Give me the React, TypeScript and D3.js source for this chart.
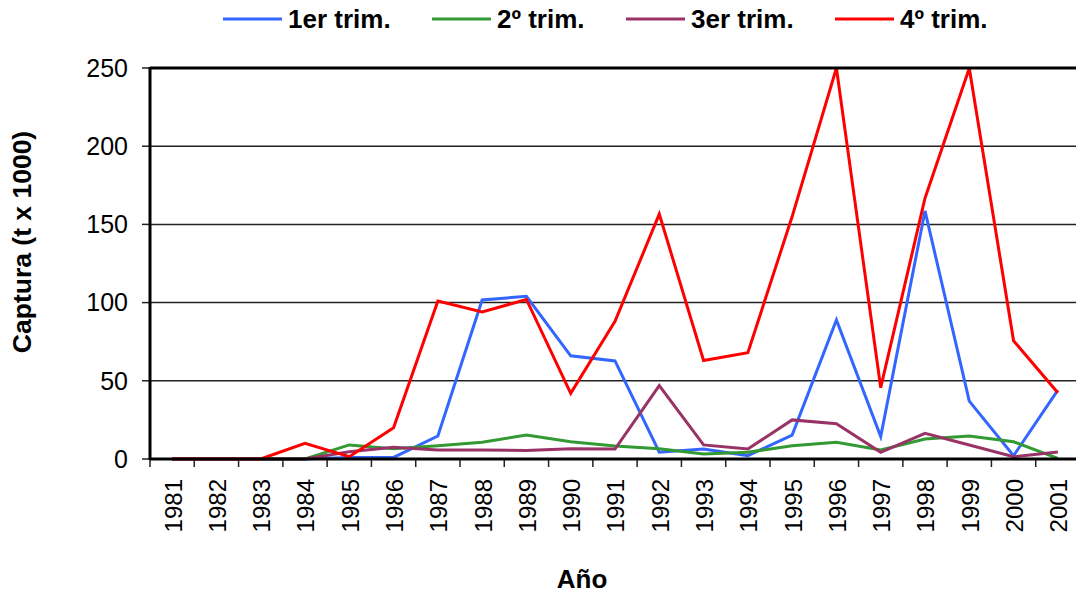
import React from "react";
import * as d3 from "d3";

const years = ["1981","1982","1983","1984","1985","1986","1987","1988","1989","1990","1991","1992","1993","1994","1995","1996","1997","1998","1999","2000","2001"];
const trim1 = [0,0,0,0,1,1,14.7,101.7,104,66,62.7,4.3,6.4,2.1,15.3,88.9,14.3,158.6,37,2.1,44];
const trim2 = [0,0,0,0,9,6.6,8.5,10.7,15.3,11,8.3,6.6,3.2,4.3,8.5,10.7,5.8,12.8,14.7,11,0.4];
const trim3 = [0,0,0,0,4.7,7.5,5.8,5.8,5.4,6.5,6.4,46.9,9,6.4,25,22.6,4.3,16.4,9,1.5,4.5];
const trim4 = [0,0,0,10,1.5,20,101,94,102,42,88,156.6,63,68,155,250,45.6,166.7,249.8,75.6,42.4];
const yTicks = [0,50,100,150,200,250];
const seriesNames = ["1er trim.","2º trim.","3er trim.","4º trim."];
const seriesColors = ["#3366FF","#339933","#993366","#FF0000"];

export default function App() {
  const W = 1076, H = 594;
  const left = 150, right = 1080, top = 68, bottom = 459;
  const x = d3.scaleBand<string>().domain(years).range([left, right]);
  const y = d3.scaleLinear().domain([0, 250]).range([bottom, top]);
  const series = [trim1, trim2, trim3, trim4];
  const line = d3.line<number>().x((_, i) => (x(years[i]) as number) + x.bandwidth() / 2).y(d => y(d));
  const legendX = [223, 432, 626, 835];
  const font = "Arial, 'Liberation Sans', sans-serif";
  const boundaries = d3.range(years.length + 1).map(i => left + i * x.step());
  return (
    <svg width={W} height={H} style={{ position: "absolute", left: 0, top: 0, background: "#fff" }} fontFamily={font}>
      {yTicks.filter(t => t > 0 && t < 250).map(t => (
        <line key={"g" + t} x1={left} x2={W} y1={y(t)} y2={y(t)} stroke="#222" strokeWidth={1.5} />
      ))}
      {yTicks.map(t => (
        <g key={"yt" + t}>
          <line x1={142} x2={left} y1={y(t)} y2={y(t)} stroke="#222" strokeWidth={1.5} />
          <text x={128} y={y(t)} dy="0.35em" textAnchor="end" fontSize={25} fill="#000">{t}</text>
        </g>
      ))}
      {boundaries.map((bx, i) => (
        <line key={"xt" + i} x1={bx} x2={bx} y1={bottom} y2={bottom + 8} stroke="#222" strokeWidth={1.5} />
      ))}
      {years.map(yr => {
        const cx = (x(yr) as number) + x.bandwidth() / 2;
        return (
          <text key={yr} transform={`translate(${cx + 1},479) rotate(-90)`} dy="0.35em" textAnchor="end" fontSize={24} fill="#000">{yr}</text>
        );
      })}
      {series.map((s, i) => (
        <path key={"s" + i} d={line(s) || ""} fill="none" stroke={seriesColors[i]} strokeWidth={3} strokeLinejoin="miter" />
      ))}
      <line x1={left} x2={W} y1={top} y2={top} stroke="#000" strokeWidth={3} />
      <line x1={left} x2={left} y1={top - 1} y2={bottom + 1} stroke="#000" strokeWidth={3} />
      <line x1={left} x2={W} y1={bottom} y2={bottom} stroke="#000" strokeWidth={3} />
      {seriesNames.map((n, i) => (
        <g key={"l" + i}>
          <line x1={legendX[i]} x2={legendX[i] + 59} y1={19} y2={19} stroke={seriesColors[i]} strokeWidth={3} />
          <text x={legendX[i] + 65} y={28} fontSize={26} fontWeight="bold" fill="#000">{n}</text>
        </g>
      ))}
      <text transform={`translate(31,242) rotate(-90)`} textAnchor="middle" fontSize={26.5} fontWeight="bold" fill="#000">Captura (t x 1000)</text>
      <text x={582} y={588} textAnchor="middle" fontSize={26} fontWeight="bold" fill="#000">Año</text>
    </svg>
  );
}
